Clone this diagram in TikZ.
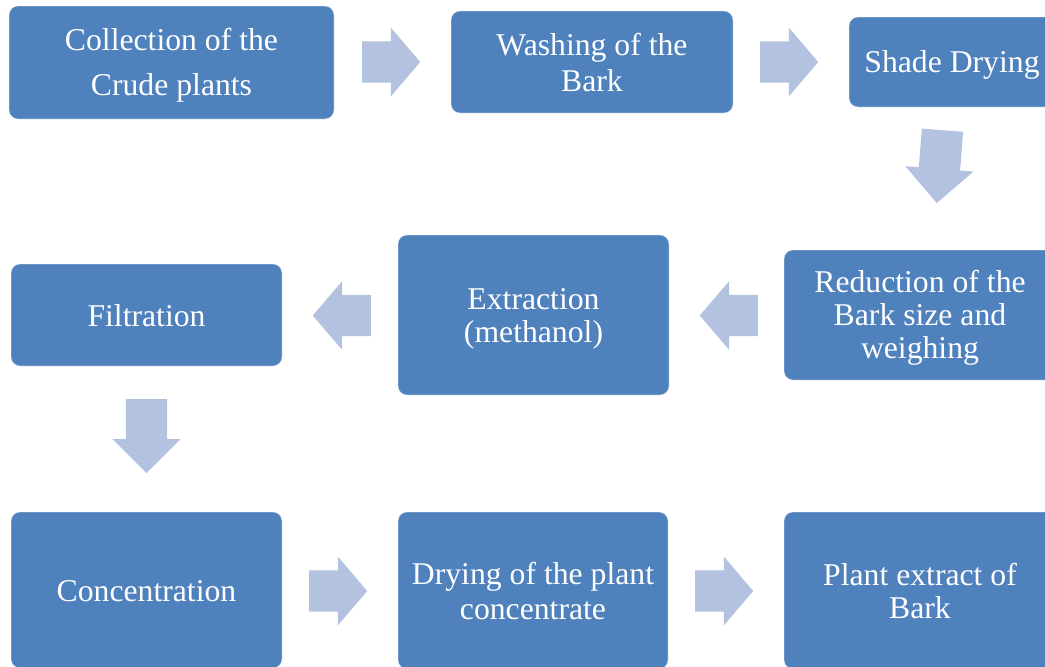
\documentclass[tikz,border=0pt]{standalone}
\usepackage{fontspec}
\setmainfont{Liberation Serif}
\usetikzlibrary{shapes.arrows}
\definecolor{boxblue}{HTML}{4F81BD}
\definecolor{arrblue}{HTML}{B3C2DE}
\newcommand\ps{\rule[-5pt]{0pt}{33pt}}
\tikzset{
  box/.style={rectangle, rounded corners=9pt, fill=boxblue, draw=white, draw opacity=0.45,
    line width=0.8pt, text=white, inner sep=0pt, align=center,
    font=\fontsize{31.7}{33}\selectfont},
  harrow/.style={single arrow, fill=arrblue, draw=none, inner xsep=0pt, inner ysep=20.5pt,
    minimum height=58pt, single arrow head extend=13.5pt,
    single arrow tip angle=99, anchor=tail},
  varrow/.style={harrow, minimum height=74pt, single arrow tip angle=90},
}
\begin{document}
\begin{tikzpicture}[x=1pt, y=-1pt]
\useasboundingbox (0,0) rectangle (1045,667);
\clip (0,0) rectangle (1045,667);
\fill[white] (0,0) rectangle (1045,667);

% boxes
\node[box, minimum width=325pt, minimum height=113pt, font=\fontsize{31.7}{45}\selectfont]
  (n1) at (171.5,62.5) {\ps Collection of the\\\ps Crude plants};
\node[box, minimum width=282pt, minimum height=102pt] (n2) at (592,62) {\ps Washing of the\\\ps Bark};
\node[box, minimum width=206pt, minimum height=90pt] (n3) at (952,62) {\ps Shade Drying};
\node[box, minimum width=272pt, minimum height=130pt] (n4) at (920,315)
  {\ps Reduction of the\\\ps Bark size and\\\ps weighing};
\node[box, minimum width=271pt, minimum height=160pt] (n5) at (533.5,315) {\ps Extraction\\\ps (methanol)};
\node[box, minimum width=271pt, minimum height=102pt] (n6) at (146.5,315) {\ps Filtration};
\node[box, minimum width=271pt, minimum height=156pt] (n7) at (146.5,590) {\ps Concentration};
\node[box, minimum width=270pt, minimum height=157pt] (n8) at (533,590.5) {\ps Drying of the plant\\\ps concentrate};
\node[box, minimum width=272pt, minimum height=157pt] (n9) at (920,590.5) {\ps Plant extract of\\\ps Bark};

% block arrows
\node[harrow] (a1) at (362,62) {};
\node[harrow] (a2) at (760,62) {};
\node[varrow, minimum height=73pt, rotate=-94.5] (a3) at (942.5,130) {};
\node[harrow, rotate=180] (a4) at (758,315.5) {};
\node[harrow, rotate=180] (a5) at (371,315.5) {};
\node[varrow, rotate=-90] (a6) at (146.5,399) {};
\node[harrow] (a7) at (309,591) {};
\node[harrow] (a8) at (695,591) {};
\end{tikzpicture}
\end{document}
